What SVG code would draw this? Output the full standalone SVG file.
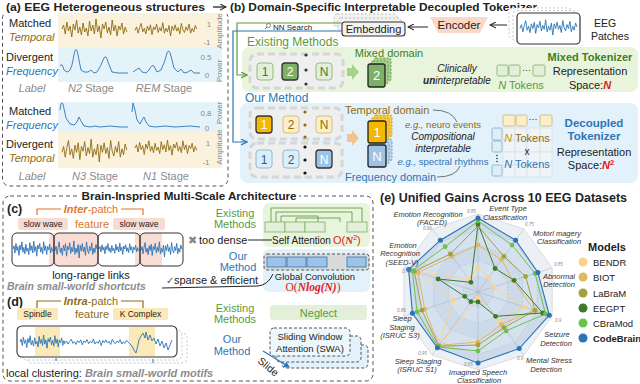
<svg xmlns="http://www.w3.org/2000/svg" width="640" height="384" viewBox="0 0 640 384">
<defs>
<style>
svg{font-family:"Liberation Sans",Arial,sans-serif;font-size:11px;fill:#222}
.b{font-weight:bold}
.i{font-style:italic}
.m{text-anchor:middle}
.gr{fill:#5A9A3A}
.dg{fill:#3E7D28}
.bl{fill:#2E75B6}
.br{fill:#8E6C12}
.or{fill:#E0762B}
.rd{fill:#E0201B}
.gy{fill:#8C8C8C}
.ax{font-size:8px;fill:#8C8C8C}
.sym{font-family:"DejaVu Sans",sans-serif}
.ser{font-family:"Liberation Serif",serif}
.dash{fill:none;stroke:#555;stroke-width:1;stroke-dasharray:4 3}
.sigB{fill:none;stroke:#2E75B6;stroke-width:0.9}
.sigT{fill:none;stroke:#8E6C12;stroke-width:0.9}
.grp{fill:#EFEFEF;stroke:#D6D6D6;stroke-width:3;stroke-dasharray:7 4}
.tokG{fill:#E2F0D9;stroke:#7FAF63;stroke-width:0.8}
.tokY{fill:#FCEFC7;stroke:#C9B27A;stroke-width:0.8}
.tokB{fill:#DCEFF9;stroke:#7FA9C9;stroke-width:0.8}
.dk{stroke:#333;stroke-width:1.3}
.dig{font-size:12px}
.sh{stroke-dasharray:2 1.5;stroke-width:0.8}
.rl{font-size:7.5px;font-style:italic;fill:#333;text-anchor:middle}
.tk{font-size:4.5px;fill:#888;font-style:italic}
.lg{font-size:9.5px}
</style>
<path id="nzA" vector-effect="non-scaling-stroke" d="M0,0 L1.5,-4 L3,5 L4.5,-7 L6,2 L7.5,-3 L9,8 L10.5,-5 L12,1 L13.5,-9 L15,4 L16.5,-2 L18,6 L19.5,-6 L21,3 L22.5,-1 L24,7 L25.5,-8 L27,2 L28.5,-4 L30,5 L31.5,-10 L33,3 L34.5,-3 L36,9 L37.5,-5 L39,0 L40.5,-7 L42,4 L43.5,-2 L45,6 L46.5,-9 L48,2 L49.5,-4 L51,7 L52.5,-3 L54,1 L55.5,-6 L57,5 L58.5,-2 L60,3"/>
<path id="nzB" vector-effect="non-scaling-stroke" d="M0,2 L1.5,-3 L3,6 L4.5,-2 L6,-8 L7.5,4 L9,-1 L10.5,7 L12,-4 L13.5,2 L15,-6 L16.5,8 L18,-3 L19.5,1 L21,-7 L22.5,5 L24,-2 L25.5,3 L27,-9 L28.5,6 L30,-1 L31.5,4 L33,-5 L34.5,10 L36,-4 L37.5,2 L39,-6 L40.5,3 L42,-2 L43.5,7 L45,-8 L46.5,1 L48,5 L49.5,-3 L51,2 L52.5,-7 L54,6 L55.5,-1 L57,4 L58.5,-5 L60,0"/>
<marker id="ak" markerUnits="userSpaceOnUse" markerWidth="7" markerHeight="7" refX="6" refY="3.5" orient="auto"><path d="M0,0.5 L6,3.5 L0,6.5" fill="none" stroke="#222" stroke-width="1.1"/></marker>
<marker id="ag" markerUnits="userSpaceOnUse" markerWidth="7" markerHeight="7" refX="6" refY="3.5" orient="auto"><path d="M0,0.5 L6,3.5 L0,6.5" fill="none" stroke="#5A9A3A" stroke-width="1.2"/></marker>
<marker id="ab" markerUnits="userSpaceOnUse" markerWidth="7" markerHeight="7" refX="6" refY="3.5" orient="auto"><path d="M0,0.5 L6,3.5 L0,6.5" fill="none" stroke="#2E75B6" stroke-width="1.2"/></marker>
<marker id="abf" markerUnits="userSpaceOnUse" markerWidth="6" markerHeight="6" refX="5" refY="3" orient="auto"><path d="M0,0 L6,3 L0,6 z" fill="#2E75B6"/></marker>
</defs>
<rect width="640" height="384" fill="#fff"/>

<!-- ===== Panel (a) ===== -->
<g id="panel-a">
<rect x="2.5" y="11" width="225.5" height="175" rx="7" class="dash"/>
<rect x="4" y="0" width="226" height="14" fill="#fff"/>
<text x="6" y="11" class="b" font-size="11.5" textLength="199" lengthAdjust="spacingAndGlyphs">(a) EEG Heterogeneous structures</text>
<rect x="58" y="13" width="164" height="34" fill="#FBF2DE"/>
<rect x="58" y="47" width="164" height="35" fill="#E4F3FA"/>
<rect x="58" y="102" width="164" height="30" fill="#E4F3FA"/>
<rect x="58" y="132" width="164" height="36" fill="#FBF2DE"/>
<text x="9" y="27">Matched</text>
<text x="9" y="41" class="i br">Temporal</text>
<text x="6" y="61">Divergent</text>
<text x="6" y="75" class="i bl">Frequency</text>
<text x="32" y="92" class="m i gy">Label</text>
<text x="91" y="92" class="m gy"><tspan class="i">N2</tspan> Stage</text>
<text x="164" y="92" class="m gy"><tspan class="i">REM</tspan> Stage</text>
<text x="9" y="115">Matched</text>
<text x="6" y="129" class="i bl">Frequency</text>
<text x="6" y="148">Divergent</text>
<text x="9" y="162" class="i br">Temporal</text>
<text x="32" y="180" class="m i gy">Label</text>
<text x="95" y="180" class="m gy"><tspan class="i">N3</tspan> Stage</text>
<text x="166" y="180" class="m gy"><tspan class="i">N1</tspan> Stage</text>
<use href="#nzA" class="sigT" transform="translate(62,29) scale(1.08,1)"/>
<use href="#nzB" class="sigT" transform="translate(135,29) scale(1.03,0.7)"/>
<use href="#nzB" class="sigT" transform="translate(62,150) scale(1.08,1.2)"/>
<use href="#nzA" class="sigT" transform="translate(135,148) scale(1.03,0.8)"/>
<path class="sigB" d="M60,66 Q62,62 64,70 L67,72 Q71,72 73,60 Q76,42 78,55 L81,70 L84,72 L88,72 L91,70 L94,73 L97,72 Q101,66 104,58 Q106,54 108,62 L112,72 L118,73 L128,73"/>
<path class="sigB" d="M133,72 L136,70 L139,68 L142,72 L146,73 L149,70 Q152,64 154,66 L157,72 L161,70 Q165,62 167,53 Q169,48 171,56 L174,68 L178,72 L181,69 L184,73 L188,72 L191,70 L194,73 L200,73"/>
<path class="sigB" d="M60,110 Q61,100 63,104 L66,118 L70,124 L74,125 L77,122 L79,117 L81,121 L84,126 L90,127 L95,126 L100,127 L110,126 L120,127 L128,127"/>
<path class="sigB" d="M132,112 L133,103 L135,110 L137,120 L140,124 L142,120 L144,117 L146,122 L149,126 L155,127 L165,126 L175,127 L190,126 L200,127"/>
<text x="209" y="27" class="ax m">1</text>
<text x="207" y="45" class="ax m">-1</text>
<text x="206" y="60" class="ax m">0.5</text>
<text x="207" y="78" class="ax m">0</text>
<text x="206" y="116" class="ax m">0.8</text>
<text x="207" y="131" class="ax m">0</text>
<text x="208" y="146" class="ax m">1</text>
<text x="206" y="165" class="ax m">-1</text>
<text transform="translate(222,71) rotate(-90)" class="ax m">Power</text>
<text transform="translate(222,31) rotate(-90)" class="ax m">Amplitude</text>
<text transform="translate(222,113) rotate(-90)" class="ax m">Power</text>
<text transform="translate(222,147) rotate(-90)" class="ax m">Amplitude</text>
</g>

<!-- ===== Panel (b) ===== -->
<g id="panel-b-title">
<text x="230" y="11" class="b" font-size="11" textLength="307" lengthAdjust="spacingAndGlyphs">(b) Domain-Specific Interpretable Decoupled Tokenizer</text>
</g>
<g id="eeg-patches">
<rect x="509" y="8" width="63" height="31" rx="4" fill="#fff" stroke="#C8C8C8" stroke-dasharray="2 2"/>
<rect x="513" y="10.5" width="63" height="31" rx="4" fill="#fff" stroke="#C8C8C8" stroke-dasharray="2 2"/>
<rect x="517" y="13" width="63" height="31" rx="4" fill="#fff" stroke="#333" stroke-width="1.2"/>
<use href="#nzB" class="sigB" transform="translate(520,27) scale(0.95,0.8)"/>
<text x="605" y="27" class="m" font-size="10.5">EEG</text>
<text x="610" y="40" class="m" font-size="10.5">Patches</text>
</g>
<g id="encoder">
<polygon points="430,17 488,17 480,33 438,33" fill="#F9D9C6"/>
<text x="459" y="29" class="m" font-size="11.5">Encoder</text>
</g>
<g id="embedding">
<rect x="334" y="14" width="63" height="13" rx="3" fill="#F2F2F2" stroke="#BBB" stroke-dasharray="2 2"/>
<rect x="338" y="18" width="63" height="13" rx="3" fill="#F2F2F2" stroke="#BBB" stroke-dasharray="2 2"/>
<rect x="342" y="22" width="63" height="14" rx="3" fill="#F2F2F2" stroke="#333" stroke-width="1.1"/>
<text x="373.5" y="33" class="m">Embedding</text>
</g>
<g id="nn-search">
<circle cx="268.5" cy="25.5" r="2" fill="none" stroke="#777" stroke-width="0.9"/>
<line x1="267" y1="27" x2="265" y2="29" stroke="#777" stroke-width="1"/>
<text x="273" y="29.5" font-size="8">NN Search</text>
</g>

<g id="existing-methods">
<rect x="242" y="47" width="396" height="45" rx="8" fill="#E8F5DC"/>
<text x="247" y="46" class="gr" font-size="12">Existing Methods</text>
<rect x="250" y="54" width="93" height="34" rx="7" class="grp"/>
<rect x="257" y="63" width="16" height="17" rx="3" class="tokG"/>
<text x="265" y="76" class="m dig" fill="#3E7D28">1</text>
<rect x="282" y="63" width="16" height="17" rx="3" fill="#7FB069" class="dk"/>
<text x="290" y="76" class="m dig" fill="#fff">2</text>
<circle cx="306" cy="55" r="1.6" fill="#333"/><circle cx="306" cy="70" r="1.6" fill="#333"/><circle cx="306" cy="84" r="1.6" fill="#333"/>
<rect x="316" y="63" width="16" height="17" rx="3" class="tokG"/>
<text x="324" y="76" class="m dig" fill="#3E7D28">N</text>
<polygon points="347,68 352,68 352,64 359,72 352,80 352,76 347,76" fill="#A9D18E"/>
<rect x="374" y="58" width="17" height="23" rx="2" fill="#A9D18E" stroke="#5A8A3A" class="sh"/>
<rect x="371" y="61" width="17" height="23" rx="2" fill="#A9D18E" stroke="#5A8A3A" class="sh"/>
<rect x="368" y="64" width="17" height="23" rx="2" fill="#7FB069" stroke="#222" stroke-width="1.3"/>
<text x="376.5" y="80" class="m" font-size="13" fill="#fff">2</text>
<text x="389" y="57" class="m dg">Mixed domain</text>
<text x="457" y="72" class="m i" font-size="10">Clinically</text>
<text x="457" y="84" class="m i" font-size="10"><tspan class="b">un</tspan>interpretable</text>
<rect x="497" y="65" width="11" height="11" rx="1.5" class="tokG"/>
<rect x="509" y="65" width="11" height="11" rx="1.5" class="tokG"/>
<text x="526.5" y="73" class="m" font-size="9">···</text>
<rect x="533" y="65" width="12" height="11" rx="1.5" class="tokG"/>
<text x="521" y="89" class="m gr"><tspan class="i">N</tspan> Tokens</text>
<text x="590" y="61" class="m b dg">Mixed Tokenizer</text>
<text x="590" y="75" class="m">Representation</text>
<text x="590" y="89" class="m">Space:<tspan class="rd b i">N</tspan></text>
</g>

<g id="our-method">
<rect x="240" y="103" width="398" height="80" rx="8" fill="#E3F1FA"/>
<text x="245" y="102" class="bl" font-size="12">Our Method</text>
<rect x="250" y="108" width="92" height="31" rx="7" class="grp"/>
<rect x="256" y="116" width="16" height="17" rx="3" fill="#F5B800" class="dk"/>
<text x="264" y="129" class="m dig" fill="#fff">1</text>
<rect x="283" y="116" width="16" height="17" rx="3" class="tokY"/>
<text x="291" y="129" class="m dig br">2</text>
<circle cx="305" cy="112" r="1.6" fill="#8E6C12"/><circle cx="305" cy="125" r="1.6" fill="#8E6C12"/><circle cx="305" cy="137" r="1.6" fill="#8E6C12"/>
<rect x="316" y="116" width="16" height="17" rx="3" class="tokY"/>
<text x="324" y="129" class="m dig br">N</text>
<rect x="250" y="143" width="92" height="34" rx="7" class="grp"/>
<rect x="256" y="150" width="16" height="18" rx="3" class="tokB"/>
<text x="264" y="163.5" class="m dig" fill="#2E5E8E">1</text>
<rect x="283" y="150" width="16" height="18" rx="3" class="tokB"/>
<text x="291" y="163.5" class="m dig" fill="#2E5E8E">2</text>
<circle cx="305" cy="147" r="1.6" fill="#111"/><circle cx="305" cy="160" r="1.6" fill="#111"/><circle cx="305" cy="173" r="1.6" fill="#111"/>
<rect x="316" y="150" width="16" height="18" rx="3" fill="#9DC3E6" class="dk"/>
<text x="324" y="163.5" class="m dig" fill="#fff">N</text>
<polygon points="347,134 352,134 352,130 359,138 352,146 352,142 347,142" fill="#F2C38F"/>
<rect x="374" y="139" width="18" height="22" rx="2" fill="#B9D5EE" stroke="#5B8DBF" class="sh"/>
<rect x="371" y="142" width="18" height="22" rx="2" fill="#B9D5EE" stroke="#5B8DBF" class="sh"/>
<rect x="374" y="115" width="18" height="22" rx="2" fill="#F7C843" stroke="#C99A00" class="sh"/>
<rect x="371" y="118" width="18" height="22" rx="2" fill="#F7C843" stroke="#C99A00" class="sh"/>
<rect x="368" y="121" width="18" height="22" rx="2" fill="#F5B800" stroke="#222" stroke-width="1.3"/>
<text x="377" y="137" class="m" font-size="13" fill="#fff">1</text>
<rect x="368" y="145" width="18" height="22" rx="2" fill="#9DC3E6" stroke="#222" stroke-width="1.3"/>
<text x="377" y="161" class="m" font-size="13" fill="#fff">N</text>
<text x="345" y="114" class="br">Temporal domain</text>
<text x="443" y="128" class="m br" font-size="9.5"><tspan class="i">e.g.,</tspan> neuro events</text>
<text x="443" y="140" class="m i" font-size="10">Compositional</text>
<text x="443" y="152" class="m i" font-size="10">interpretable</text>
<text x="443" y="165" class="m bl" font-size="9.5"><tspan class="i">e.g.,</tspan> spectral rhythms</text>
<text x="345" y="181" class="bl">Frequency domain</text>
<rect x="503" y="115" width="12" height="11" rx="1.5" class="tokY"/>
<rect x="516" y="115" width="11" height="11" rx="1.5" class="tokY"/>
<text x="533" y="122" class="m" font-size="9">···</text>
<rect x="540" y="115" width="12" height="11" rx="1.5" class="tokY"/>
<rect x="492" y="128" width="10" height="12" rx="1.5" class="tokB"/>
<rect x="492" y="141" width="10" height="11" rx="1.5" class="tokB"/>
<circle cx="497" cy="155.5" r="0.8" fill="#333"/><circle cx="497" cy="158.5" r="0.8" fill="#333"/><circle cx="497" cy="161.5" r="0.8" fill="#333"/>
<rect x="492" y="165" width="10" height="11" rx="1.5" class="tokB"/>
<g fill="#EEF4F8" stroke="#D5DFE6" stroke-width="0.7">
<rect x="503" y="128" width="12" height="12"/><rect x="515" y="128" width="12" height="12"/><rect x="527" y="128" width="13" height="12"/><rect x="540" y="128" width="12" height="12"/>
<rect x="503" y="140" width="12" height="12"/><rect x="515" y="140" width="12" height="12"/><rect x="527" y="140" width="13" height="12"/><rect x="540" y="140" width="12" height="12"/>
<rect x="503" y="152" width="12" height="13"/><rect x="515" y="152" width="12" height="13"/><rect x="527" y="152" width="13" height="13"/><rect x="540" y="152" width="12" height="13"/>
<rect x="503" y="165" width="12" height="12"/><rect x="515" y="165" width="12" height="12"/><rect x="527" y="165" width="13" height="12"/><rect x="540" y="165" width="12" height="12"/>
</g>
<text x="527" y="142" class="m br"><tspan class="i" fill="#C99A00">N</tspan> Tokens</text>
<text x="527" y="155" class="m" font-size="10">x</text>
<text x="527" y="168" class="m bl"><tspan class="i">N</tspan> Tokens</text>
<text x="594" y="127" class="m b bl" font-size="11.5">Decoupled</text>
<text x="594" y="140" class="m b bl" font-size="11.5">Tokenizer</text>
<text x="594" y="156" class="m">Representation</text>
<text x="591" y="169" class="m">Space:<tspan class="rd b i">N</tspan><tspan class="rd b" font-size="7.5" dy="-4">2</tspan></text>
</g>

<!-- ===== Panels (c)(d) ===== -->
<g id="panel-cd-frame">
<rect x="3" y="196" width="370" height="185" rx="7" class="dash"/>
<rect x="80" y="189" width="219" height="14" fill="#fff"/>
<text x="189" y="200" class="m b" font-size="11" textLength="215" lengthAdjust="spacingAndGlyphs">Brain-Inspried Multi-Scale Architecture</text>
</g>
<g id="panel-c">
<text x="7" y="213" class="b" font-size="12.5">(c)</text>
<path d="M37,215 V209 H61 M121,209 H143 V215" fill="none" stroke="#E0762B" stroke-width="1.2"/>
<text x="91" y="213" class="m or"><tspan class="b i">Inter</tspan>-patch</text>
<rect x="18" y="218" width="50" height="12" rx="2" fill="#F8DCD4"/>
<text x="43" y="227" class="m" font-size="8.5">slow wave</text>
<text x="92" y="228" class="m or">feature</text>
<rect x="113" y="218" width="52" height="12" rx="2" fill="#F8DCD4"/>
<text x="139" y="227" class="m" font-size="8.5">slow wave</text>
<rect x="12" y="233" width="171" height="33" fill="#fff"/>
<rect x="49" y="233" width="49" height="33" fill="#F9DDD5"/>
<rect x="135" y="233" width="27" height="33" fill="#F9DDD5"/>
<use href="#nzA" class="sigB" transform="translate(13,249) scale(0.66,0.8)"/>
<use href="#nzB" class="sigB" transform="translate(55,249) scale(0.7,0.9)"/>
<use href="#nzA" class="sigB" transform="translate(99,249) scale(0.66,0.6)"/>
<use href="#nzB" class="sigB" transform="translate(141,249) scale(0.68,0.8)"/>
<g fill="none" stroke="#333" stroke-width="1">
<rect x="12" y="233" width="42" height="33" rx="5"/>
<rect x="54" y="233" width="44" height="33" rx="5"/>
<rect x="98" y="233" width="42" height="33" rx="5"/>
<rect x="140" y="233" width="43" height="33" rx="5"/>
</g>
<text x="91" y="279" class="m">long-range links</text>
<text x="7" y="290" class="b i gy" font-size="10.5">Brain small-world shortcuts</text>
<text x="188" y="244" class="sym" font-size="11" fill="#888">✖</text>
<text x="199" y="244">too dense</text>
<text x="166" y="284" class="sym" font-size="10" fill="#555">✓</text>
<text x="174" y="284">sparse &amp; efficient</text>
<text x="235" y="217" class="m gr">Existing</text>
<text x="235" y="228" class="m gr">Methods</text>
<text x="238" y="260" class="m bl">Our</text>
<text x="238" y="271" class="m bl">Method</text>
</g>
<g id="self-attention">
<rect x="263" y="203" width="107" height="44" rx="6" fill="#E8F5DC"/>
<path d="M271,222 V208 H362 V222 M276,222 V212 H352 V222 M281,222 V216 H318 V222 M296,222 V218 H340 V222" fill="none" stroke="#5A8A3A" stroke-width="0.8"/>
<g class="tokG">
<rect x="265" y="222" width="20" height="10"/><rect x="285" y="222" width="20" height="10"/><rect x="305" y="222" width="20" height="10"/><rect x="347" y="222" width="20" height="10"/>
</g>
<text x="272" y="244" font-size="10">Self Attention</text>
<text x="333" y="244" class="rd" font-size="11">O(<tspan class="ser b i">N</tspan><tspan font-size="7" dy="-4">2</tspan><tspan dy="4">)</tspan></text>
</g>
<g id="global-convolution">
<rect x="263" y="249" width="107" height="43" rx="6" fill="#E3F1FA"/>
<rect x="264" y="254" width="105" height="16" rx="3" fill="#DADADA" stroke="#555" stroke-dasharray="3 2"/>
<g fill="#9DC3E6" stroke="#2E75B6" stroke-width="0.8">
<rect x="267" y="257" width="19" height="10"/><rect x="287" y="257" width="19" height="10"/><rect x="307" y="257" width="20" height="10"/><rect x="347" y="257" width="19" height="10"/>
</g>
<text x="315" y="280" class="m" font-size="9.5">Global Convolution</text>
<text x="313" y="291" class="m rd ser" font-size="11.5">O(<tspan class="b i">Nlog(N)</tspan>)</text>
</g>

<g id="panel-d">
<text x="7" y="306" class="b" font-size="12.5">(d)</text>
<path d="M37,308 V301 H61 M121,301 H143 V308" fill="none" stroke="#8E6C12" stroke-width="1.2"/>
<text x="91" y="305" class="m br"><tspan class="b i">Intra</tspan>-patch</text>
<rect x="17" y="308" width="41" height="12" rx="1" fill="#FCE9B8"/>
<text x="37.5" y="317" class="m" font-size="8.5">Spindle</text>
<text x="92" y="318" class="m br">feature</text>
<rect x="113" y="308" width="55" height="12" rx="1" fill="#FCE9B8"/>
<text x="140.5" y="317" class="m" font-size="8.5">K Complex</text>
<rect x="27" y="333" width="160" height="30" rx="5" fill="#fff" stroke="#C4C4C4" stroke-dasharray="2 2"/>
<rect x="22" y="330" width="160" height="30" rx="5" fill="#fff" stroke="#C4C4C4" stroke-dasharray="2 2"/>
<rect x="17" y="326" width="160" height="31" rx="5" fill="#fff"/>
<rect x="35" y="327" width="25" height="29" fill="#FCE9B8"/>
<rect x="129" y="327" width="26" height="29" fill="#FCE9B8"/>
<use href="#nzA" class="sigB" transform="translate(20,342) scale(0.75,0.7)"/>
<use href="#nzB" class="sigB" transform="translate(65,342) scale(1.05,0.35)"/>
<path class="sigB" d="M128,342 L130,344 L132,346 L134,350 L136,353 L137,349 L139,340 L141,336 L143,333 L145,338 L146,332 L148,340 L150,335 L152,341 L154,338 L156,344 L158,339 L160,346 L162,341 L164,348 L166,343 L168,350 L170,345 L172,340"/>
<rect x="17" y="326" width="160" height="31" rx="5" fill="none" stroke="#333" stroke-width="1.1"/>
<line x1="56" y1="358" x2="56" y2="361" stroke="#2E75B6"/>
<line x1="153" y1="359" x2="153" y2="363" stroke="#2E75B6"/>
<text x="6" y="377">local clustering: <tspan class="b i gy">Brain small-world motifs</tspan></text>
<text x="235" y="312" class="m gr">Existing</text>
<text x="235" y="323" class="m gr">Methods</text>
<text x="232" y="343" class="m bl">Our</text>
<text x="232" y="355" class="m bl">Method</text>
</g>
<g id="neglect">
<rect x="270" y="305" width="97" height="15" rx="3" fill="#E2F0D9"/>
<text x="318.5" y="317" class="m gr">Neglect</text>
</g>
<g id="swa">
<rect x="282" y="345" width="86" height="23" rx="4" fill="#E3F1FA" stroke="#555" stroke-dasharray="3 2"/>
<rect x="276" y="336" width="85" height="26" rx="4" fill="#E3F1FA" stroke="#555" stroke-dasharray="3 2"/>
<rect x="270" y="328" width="80" height="28" rx="4" fill="#EEF7FC" stroke="#555" stroke-dasharray="3 2"/>
<text x="310" y="340" class="m" font-size="9.5">Sliding Window</text>
<text x="310" y="352" class="m" font-size="9.5">Attention (SWA)</text>
<text transform="translate(257,362) rotate(40)" font-size="10.5">Slide</text>
</g>

<!-- ===== connectors ===== -->
<g id="connectors" fill="none">
<line x1="213" y1="7" x2="226" y2="7" stroke="#222" stroke-width="1.3" marker-end="url(#ak)"/>
<line x1="507" y1="25" x2="490" y2="25" stroke="#222" stroke-width="1" marker-end="url(#ak)"/>
<line x1="428" y1="27" x2="408" y2="27" stroke="#222" stroke-width="1" marker-end="url(#ak)"/>
<path d="M342,23 H237 V75 H247" stroke="#5A9A3A" stroke-width="1.2" marker-end="url(#ag)"/>
<path d="M342,31 H233 V142 H247" stroke="#2E75B6" stroke-width="1.2" marker-end="url(#ab)"/>
<path d="M433,110 Q452,110 457,122" stroke="#666" stroke-width="0.9"/>
<path d="M437,177 Q456,177 460,166" stroke="#666" stroke-width="0.9"/>
<line x1="248" y1="240" x2="272" y2="240" stroke="#222" stroke-width="1"/>
<path d="M162,288 L258,286 Q268,285 273,274" stroke="#222" stroke-width="1"/>
<line x1="263" y1="351" x2="289" y2="367" stroke="#2E75B6" stroke-width="1.1" marker-end="url(#abf)"/>
</g>

<!-- ===== Panel (e) ===== -->
<g id="panel-e">
<text x="380" y="202" class="b" font-size="12" textLength="247" lengthAdjust="spacingAndGlyphs">(e) Unified Gains Across 10 EEG Datasets</text>
<g id="radar" transform="translate(478,292)">
<polygon points="0,-78 45.9,-63.1 74.2,-24.1 74.2,24.1 45.9,63.1 0,78 -45.9,63.1 -74.2,24.1 -74.2,-24.1 -45.9,-63.1" fill="#ECEFF3" stroke="#C9CED4" stroke-width="0.6"/>
<polygon points="0,-62.4 36.7,-50.5 59.3,-19.3 59.3,19.3 36.7,50.5 0,62.4 -36.7,50.5 -59.3,19.3 -59.3,-19.3 -36.7,-50.5" fill="#F6F7F9" stroke="#C9CED4" stroke-width="0.6" stroke-dasharray="2 1.5"/>
<polygon points="0,-46.8 27.5,-37.9 44.5,-14.5 44.5,14.5 27.5,37.9 0,46.8 -27.5,37.9 -44.5,14.5 -44.5,-14.5 -27.5,-37.9" fill="#ECEFF3" stroke="#C9CED4" stroke-width="0.6" stroke-dasharray="2 1.5"/>
<polygon points="0,-31.2 18.3,-25.2 29.7,-9.6 29.7,9.6 18.3,25.2 0,31.2 -18.3,25.2 -29.7,9.6 -29.7,-9.6 -18.3,-25.2" fill="#F6F7F9" stroke="#C9CED4" stroke-width="0.6" stroke-dasharray="2 1.5"/>
<polygon points="0,-15.6 9.2,-12.6 14.8,-4.8 14.8,4.8 9.2,12.6 0,15.6 -9.2,12.6 -14.8,4.8 -14.8,-4.8 -9.2,-12.6" fill="#ECEFF3" stroke="#C9CED4" stroke-width="0.6" stroke-dasharray="2 1.5"/>
<path d="M0,0 L0,-78 M0,0 L45.9,-63.1 M0,0 L74.2,-24.1 M0,0 L74.2,24.1 M0,0 L45.9,63.1 M0,0 L0,78 M0,0 L-45.9,63.1 M0,0 L-74.2,24.1 M0,0 L-74.2,-24.1 M0,0 L-45.9,-63.1" stroke="#BFC5CC" stroke-width="0.6"/>
<polygon points="0,-74 37.6,-51.8 59.9,-19.5 71.3,23.2 41.2,56.6 0,71 -40.6,55.8 -65.6,21.3 -69.4,-22.6 -37.6,-51.8" fill="#2B72B8" fill-opacity="0.16" stroke="none"/>
<polygon points="0,-24 10.6,-14.6 15.2,-4.9 46.6,15.1 21.2,29.1 0,6 -40,55 -24.7,8 -59,-19.2 -9.4,-12.9" fill="none" stroke="#FDD18E" stroke-width="1"/>
<polygon points="0,-47 23.5,-32.4 35.2,-11.4 56.1,18.2 23.5,32.4 0,50 -38.8,53.4 -53.3,17.3 -59.9,-19.5 -25.9,-35.6" fill="none" stroke="#DFB862" stroke-width="1"/>
<polygon points="0,-66 25.9,-35.6 47.6,-15.5 57.1,18.5 25.9,35.6 0,53 -39.4,54.2 -56.1,18.2 -63.7,-20.7 -27.6,-38" fill="none" stroke="#A4A03F" stroke-width="1"/>
<polygon points="0,-68 17.1,-23.5 36.1,-11.7 64.7,21 17.6,24.3 0,10 -7.1,9.7 -13.3,4.3 -39.9,-13 -7.1,-9.7" fill="none" stroke="#3D7A2B" stroke-width="1"/>
<polygon points="0,-71 34.1,-46.9 57.1,-18.5 67.5,21.9 28.2,38.8 0,59 -40,55 -60.9,19.8 -65.6,-21.3 -32.9,-45.3" fill="none" stroke="#6CC24A" stroke-width="1"/>
<polygon points="0,-74 37.6,-51.8 59.9,-19.5 71.3,23.2 41.2,56.6 0,71 -40.6,55.8 -65.6,21.3 -69.4,-22.6 -37.6,-51.8" fill="none" stroke="#2B72B8" stroke-width="1.1"/>
<g fill="#FDD18E"><circle cx="0" cy="-24" r="2.4"/><circle cx="10.6" cy="-14.6" r="2.4"/><circle cx="15.2" cy="-4.9" r="2.4"/><circle cx="46.6" cy="15.1" r="2.4"/><circle cx="21.2" cy="29.1" r="2.4"/><circle cx="0" cy="6" r="2.4"/><circle cx="-40" cy="55" r="2.4"/><circle cx="-24.7" cy="8" r="2.4"/><circle cx="-59" cy="-19.2" r="2.4"/><circle cx="-9.4" cy="-12.9" r="2.4"/></g>
<g fill="#DFB862"><circle cx="0" cy="-47" r="2.4"/><circle cx="23.5" cy="-32.4" r="2.4"/><circle cx="35.2" cy="-11.4" r="2.4"/><circle cx="56.1" cy="18.2" r="2.4"/><circle cx="23.5" cy="32.4" r="2.4"/><circle cx="0" cy="50" r="2.4"/><circle cx="-38.8" cy="53.4" r="2.4"/><circle cx="-53.3" cy="17.3" r="2.4"/><circle cx="-59.9" cy="-19.5" r="2.4"/><circle cx="-25.9" cy="-35.6" r="2.4"/></g>
<g fill="#A4A03F"><circle cx="0" cy="-66" r="2.4"/><circle cx="25.9" cy="-35.6" r="2.4"/><circle cx="47.6" cy="-15.5" r="2.4"/><circle cx="57.1" cy="18.5" r="2.4"/><circle cx="25.9" cy="35.6" r="2.4"/><circle cx="0" cy="53" r="2.4"/><circle cx="-39.4" cy="54.2" r="2.4"/><circle cx="-56.1" cy="18.2" r="2.4"/><circle cx="-63.7" cy="-20.7" r="2.4"/><circle cx="-27.6" cy="-38" r="2.4"/></g>
<g fill="#3D7A2B"><circle cx="0" cy="-68" r="2.4"/><circle cx="17.1" cy="-23.5" r="2.4"/><circle cx="36.1" cy="-11.7" r="2.4"/><circle cx="64.7" cy="21" r="2.4"/><circle cx="17.6" cy="24.3" r="2.4"/><circle cx="0" cy="10" r="2.4"/><circle cx="-7.1" cy="9.7" r="2.4"/><circle cx="-13.3" cy="4.3" r="2.4"/><circle cx="-39.9" cy="-13" r="2.4"/><circle cx="-7.1" cy="-9.7" r="2.4"/></g>
<g fill="#6CC24A"><circle cx="0" cy="-71" r="2.4"/><circle cx="34.1" cy="-46.9" r="2.4"/><circle cx="57.1" cy="-18.5" r="2.4"/><circle cx="67.5" cy="21.9" r="2.4"/><circle cx="28.2" cy="38.8" r="2.4"/><circle cx="0" cy="59" r="2.4"/><circle cx="-40" cy="55" r="2.4"/><circle cx="-60.9" cy="19.8" r="2.4"/><circle cx="-65.6" cy="-21.3" r="2.4"/><circle cx="-32.9" cy="-45.3" r="2.4"/></g>
<g fill="#2B72B8"><circle cx="0" cy="-74" r="2.5"/><circle cx="37.6" cy="-51.8" r="2.5"/><circle cx="59.9" cy="-19.5" r="2.5"/><circle cx="71.3" cy="23.2" r="2.5"/><circle cx="41.2" cy="56.6" r="2.5"/><circle cx="0" cy="71" r="2.5"/><circle cx="-40.6" cy="55.8" r="2.5"/><circle cx="-65.6" cy="21.3" r="2.5"/><circle cx="-69.4" cy="-22.6" r="2.5"/><circle cx="-37.6" cy="-51.8" r="2.5"/></g>
<text x="-11" y="-79" class="tk">0.85</text>
<text x="47" y="-66" class="tk">0.75</text>
<text x="76" y="-26" class="tk">0.85</text>
<text x="77" y="30" class="tk">0.9</text>
<text x="39" y="68" class="tk">0.9</text>
<text x="-14" y="74" class="tk">0.65</text>
<text x="-60" y="63" class="tk">0.95</text>
<text x="-81" y="20" class="tk">0.86</text>
<text x="-76" y="-19" class="tk">0.76</text>
<text x="-55" y="-62" class="tk">0.66</text>
</g>
<text x="508" y="210.5" class="rl">Event Type</text>
<text x="505" y="220" class="rl">Classification</text>
<text x="557" y="236" class="rl">Motorl magery</text>
<text x="559" y="244" class="rl">Classification</text>
<text x="559" y="279" class="rl">Abnormal</text>
<text x="559" y="287" class="rl">Detection</text>
<text x="557" y="337" class="rl">Seizure</text>
<text x="556" y="345.5" class="rl">Detection</text>
<text x="549" y="363" class="rl">Mental Stress</text>
<text x="546" y="371.5" class="rl">Detection</text>
<text x="478" y="374.5" class="rl">Imagined Speech</text>
<text x="479" y="382.5" class="rl">Classification</text>
<text x="418" y="364" class="rl">Sleep Staging</text>
<text x="417" y="372" class="rl">(ISRUC S1)</text>
<text x="402" y="321" class="rl">Sleep</text>
<text x="402" y="329.5" class="rl">Staging</text>
<text x="400" y="338" class="rl">(ISRUC S3)</text>
<text x="403" y="247.5" class="rl">Emotion</text>
<text x="400" y="256" class="rl">Recognition</text>
<text x="402" y="264.5" class="rl">(SEED-V)</text>
<text x="428" y="217" class="rl">Emotion Recognition</text>
<text x="432" y="225" class="rl">(FACED)</text>
<g id="legend">
<text x="607" y="251" class="m b" font-size="11">Models</text>
<circle cx="583" cy="262" r="4.5" fill="#FDD18E"/><text x="593" y="265.5" class="lg">BENDR</text>
<circle cx="583" cy="277" r="4.5" fill="#DFB862"/><text x="593" y="280.5" class="lg">BIOT</text>
<circle cx="583" cy="293" r="4.5" fill="#A4A03F"/><text x="593" y="296.5" class="lg">LaBraM</text>
<circle cx="583" cy="308" r="4.5" fill="#3D7A2B"/><text x="593" y="311.5" class="lg">EEGPT</text>
<circle cx="583" cy="323" r="4.5" fill="#6CC24A"/><text x="593" y="326.5" class="lg">CBraMod</text>
<circle cx="583" cy="338" r="4.5" fill="#2B72B8"/><text x="593" y="341.5" class="lg b">CodeBrain</text>
</g>
</g>
</svg>
